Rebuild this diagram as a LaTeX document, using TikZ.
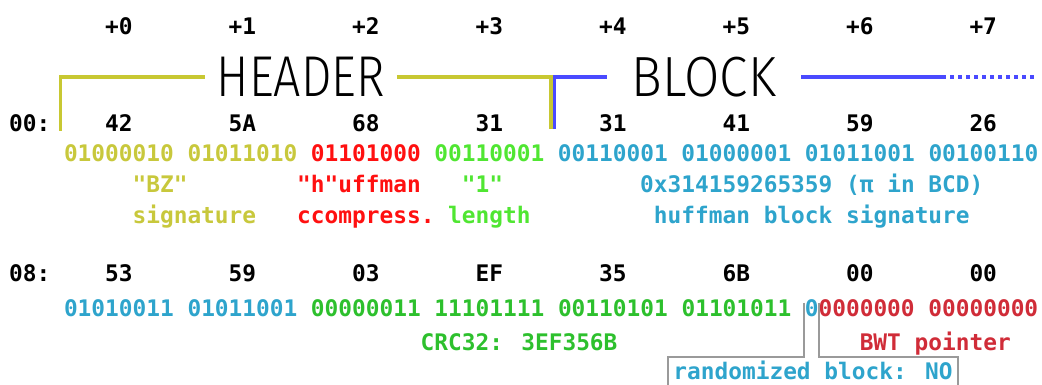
\documentclass[tikz,border=0pt]{standalone}
\usepackage{fontspec}
\usepackage{graphicx}
\usetikzlibrary{calc}
\newfontfamily\monofont{DejaVu Sans Mono}
\newfontfamily\hdrfont{Fira Sans Light}
\definecolor{cYel}{HTML}{C8C83C}
\definecolor{cYelLine}{HTML}{C8C832}
\definecolor{cRed}{HTML}{FF1010}
\definecolor{cGrn}{HTML}{50E632}
\definecolor{cCyan}{HTML}{2EA4CC}
\definecolor{cDGrn}{HTML}{2DC02D}
\definecolor{cDRed}{HTML}{D02C38}
\definecolor{cBlue}{HTML}{4A4AFF}
\definecolor{cGray}{HTML}{9A9A9A}
\def\cw{13.72}
\def\xo{64}
\begin{document}
\begin{tikzpicture}[x=1pt,y=-1pt,
  every node/.style={inner sep=0pt, outer sep=0pt},
  mono/.style={font=\monofont\bfseries\fontsize{22.8}{27}\selectfont},
  txt/.style={mono, anchor=base west},
  ctxt/.style={mono, anchor=base},
  yline/.style={draw=cYelLine, line width=3.5pt},
  bline/.style={draw=cBlue, line width=3.5pt},
  gline/.style={draw=cGray, line width=2pt},
  bigword/.style={inner xsep=12pt, inner ysep=0pt}]
\useasboundingbox (0,0) rectangle (1042,385);
\clip (0,0) rectangle (1042,385);

% offsets row
\foreach \k in {0,...,7}
  \node[ctxt] (p\k) at ({\xo+(9*\k+4)*\cw},35) {+\k};

% headers
\node[bigword] (hdr) at (300.8,77) {\hdrfont\resizebox{168pt}{39.4pt}{HEADER}};
\node[bigword, inner xsep=25pt] (blk) at (704,77) {\hdrfont\resizebox{144pt}{39.4pt}{BLOCK}};
\coordinate (yA) at (60.5,131);
\coordinate (yB) at (551,129);
\coordinate (bA) at (554.5,129);
\coordinate (bC) at (942,77);
\coordinate (bD) at (1034,77);
\draw[yline] (yA) |- (hdr.west);
\draw[yline] (hdr.east) -| (yB);
\draw[bline] (bA) |- (blk.west);
\draw[bline] (blk.east) -- (bC);
\draw[bline, dash pattern=on 4pt off 4pt] (bC) -- (bD);

% row 00
\node[txt] (r00) at ({\xo-4*\cw},131.5) {00:};
\foreach \k/\v in {0/42,1/5A,2/68,3/31,4/31,5/41,6/59,7/26}
  \node[ctxt] (ha\k) at ({\xo+(9*\k+4)*\cw},131.5) {\v};

\node[txt, text=cYel] (b1a) at ({\xo+0*\cw},161) {01000010 01011010};
\node[txt, text=cRed] (b1b) at ({\xo+18*\cw},161) {01101000};
\node[txt, text=cGrn] (b1c) at ({\xo+27*\cw},161) {00110001};
\node[txt, text=cCyan] (b1d) at ({\xo+36*\cw},161) {00110001 01000001 01011001 00100110};

\node[txt, text=cYel] (bz) at ({\xo+5*\cw},193) {"BZ"};
\node[txt, text=cYel] (sig) at ({\xo+5*\cw},223) {signature};
\node[txt, text=cRed] (huf) at ({\xo+17*\cw},193) {"h"uffman};
\node[txt, text=cRed] (cmp) at ({\xo+17*\cw},223) {ccompress.};
\node[txt, text=cGrn] (one) at ({\xo+29*\cw},193) {"1"};
\node[txt, text=cGrn] (len) at ({\xo+28*\cw},223) {length};
\node[txt, text=cCyan] (pi) at ({\xo+42*\cw},193) {0x314159265359 (π in BCD)};
\node[txt, text=cCyan] (hbs) at ({\xo+43*\cw},223) {huffman block signature};

% row 08
\node[txt] (r08) at ({\xo-4*\cw},281.5) {08:};
\foreach \k/\v in {0/53,1/59,2/03,3/EF,4/35,5/6B,6/00,7/00}
  \node[ctxt] (hb\k) at ({\xo+(9*\k+4)*\cw},281.5) {\v};

\node[txt, text=cCyan] (b2a) at ({\xo+0*\cw},316.5) {01010011 01011001};
\node[txt, text=cDGrn] (b2b) at ({\xo+18*\cw},316.5) {00000011 11101111 00110101 01101011};
\node[txt, text=cCyan] (zero) at ({\xo+54*\cw},316.5) {0};
\node[txt, text=cDRed] (b2d) at ({\xo+55*\cw},316.5) {0000000 00000000};

\node[txt, text=cDGrn] (crc) at ({\xo+26*\cw},350) {CRC32: 3EF356B};
\node[txt, text=cDRed] (bwt) at ({\xo+58*\cw},350) {BWT pointer};
\node[ctxt, text=cCyan, inner xsep=5pt] (rand) at (813,379.5) {randomized block: NO};

% randomized-block callout
\coordinate (gL1) at ($(zero.base west)+(-0.5,-13.8)$);
\coordinate (gL2) at ($(zero.base west)+(-0.5,40.2)$);
\coordinate (gR1) at ($(zero.base east)+(0.5,-13.8)$);
\coordinate (gR2) at ($(zero.base east)+(0.5,40.2)$);
\draw[gline] (gL1) -- (gL2) -- (gL2 -| rand.west) -- ++(0,40);
\draw[gline] (gR1) -- (gR2) -- (gR2 -| rand.east) -- ++(0,40);
\end{tikzpicture}
\end{document}
